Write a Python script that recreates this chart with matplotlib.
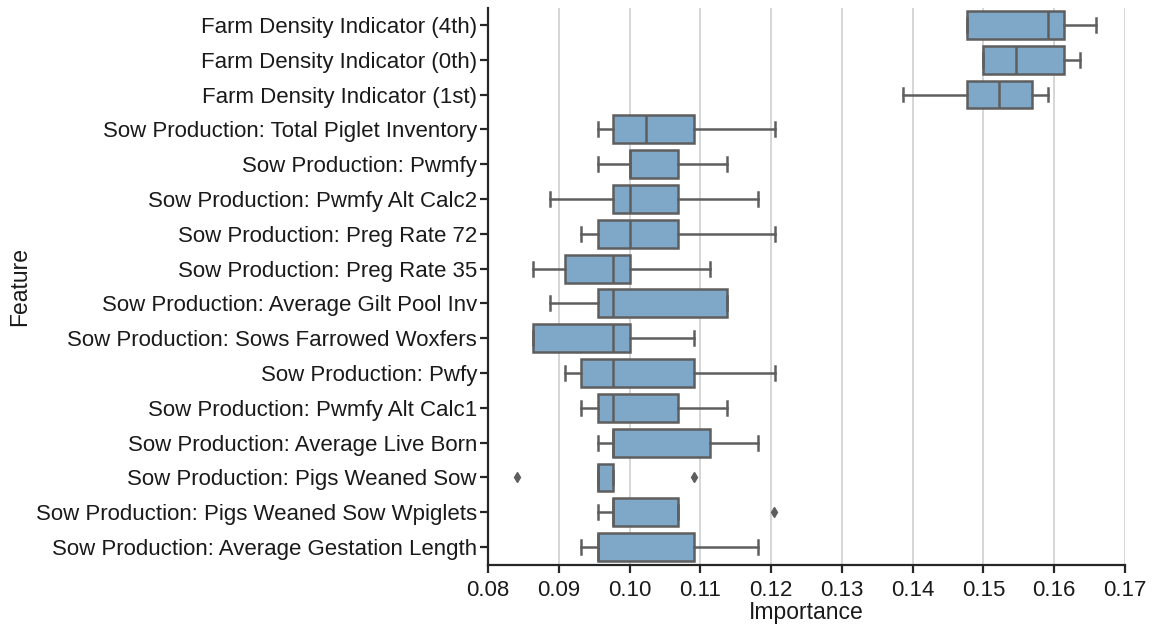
import matplotlib
matplotlib.use("Agg")
import matplotlib.pyplot as plt

features = [
    "Farm Density Indicator (4th)",
    "Farm Density Indicator (0th)",
    "Farm Density Indicator (1st)",
    "Sow Production: Total Piglet Inventory",
    "Sow Production: Pwmfy",
    "Sow Production: Pwmfy Alt Calc2",
    "Sow Production: Preg Rate 72",
    "Sow Production: Preg Rate 35",
    "Sow Production: Average Gilt Pool Inv",
    "Sow Production: Sows Farrowed Woxfers",
    "Sow Production: Pwfy",
    "Sow Production: Pwmfy Alt Calc1",
    "Sow Production: Average Live Born",
    "Sow Production: Pigs Weaned Sow",
    "Sow Production: Pigs Weaned Sow Wpiglets",
    "Sow Production: Average Gestation Length",
]
whisker_low = [0.1477, 0.1499, 0.1386, 0.0955, 0.0955, 0.0887, 0.0932, 0.0864,
               0.0887, 0.0864, 0.0909, 0.0932, 0.0955, 0.0955, 0.0955, 0.0932]
q1 = [0.1477, 0.1499, 0.1477, 0.0977, 0.1000, 0.0977, 0.0955, 0.0909,
      0.0955, 0.0864, 0.0932, 0.0955, 0.0977, 0.0955, 0.0977, 0.0955]
median = [0.1591, 0.1546, 0.1522, 0.1023, 0.1000, 0.1000, 0.1000, 0.0977,
          0.0977, 0.0977, 0.0977, 0.0977, 0.0977, 0.0955, 0.0977, 0.0955]
q3 = [0.1614, 0.1614, 0.1569, 0.1091, 0.1069, 0.1069, 0.1069, 0.1000,
      0.1137, 0.1000, 0.1091, 0.1069, 0.1114, 0.0977, 0.1069, 0.1091]
whisker_high = [0.1659, 0.1636, 0.1591, 0.1205, 0.1137, 0.1182, 0.1205, 0.1114,
                0.1137, 0.1091, 0.1205, 0.1137, 0.1182, 0.0977, 0.1069, 0.1182]
outliers = [[], [], [], [], [], [], [], [], [], [], [], [], [],
            [0.0841, 0.1091], [0.1204], []]

xticks = [0.08, 0.09, 0.10, 0.11, 0.12, 0.13, 0.14, 0.15, 0.16, 0.17]

plt.rcParams['font.family'] = ['Liberation Sans', 'DejaVu Sans']

fig = plt.figure(figsize=(11.62, 6.27), dpi=100)
ax = fig.add_axes([488 / 1162, 1 - 564.5 / 627, (1125 - 488) / 1162, (564.5 - 7.5) / 627])

stats = []
for i in range(len(features)):
    stats.append(dict(whislo=whisker_low[i], q1=q1[i], med=median[i], q3=q3[i],
                      whishi=whisker_high[i], fliers=outliers[i], label=features[i]))

edge = "#5e5e5e"
positions = list(range(len(features)))
ax.bxp(stats, positions=positions, vert=False, widths=0.8, patch_artist=True,
       boxprops=dict(facecolor="#7fa8c8", edgecolor=edge, linewidth=1.8),
       medianprops=dict(color=edge, linewidth=1.8),
       whiskerprops=dict(color=edge, linewidth=1.8),
       capprops=dict(color=edge, linewidth=1.8),
       capwidths=0.4,
       flierprops=dict(marker='d', markerfacecolor=edge, markeredgecolor=edge,
                       markersize=5, linestyle='none'),
       zorder=3)

ax.set_ylim(len(features) - 0.5, -0.5)
ax.set_xlim(0.08, 0.17)
ax.set_xticks(xticks)
ax.set_xticklabels([f"{t:.2f}" for t in xticks])
ax.set_yticks(positions)
ax.set_yticklabels(features)

ax.grid(axis='x', color='#d0d0d0', linewidth=1.2, zorder=0)
ax.set_axisbelow(True)
for s in ['top', 'right']:
    ax.spines[s].set_visible(False)
for s in ['left', 'bottom']:
    ax.spines[s].set_color('#262626')
    ax.spines[s].set_linewidth(1.6)
ax.tick_params(axis='both', direction='out', length=6, width=1.6, color='#262626',
               labelsize=16, labelcolor='#1a1a1a')
ax.tick_params(axis='x', pad=5)
ax.tick_params(axis='y', pad=2)
ax.set_xlabel("Importance", fontsize=16.5, color='#1a1a1a', labelpad=0)
ax.set_ylabel("Feature", fontsize=16.5, color='#1a1a1a', labelpad=3)

fig.savefig("out.png", dpi=100)
